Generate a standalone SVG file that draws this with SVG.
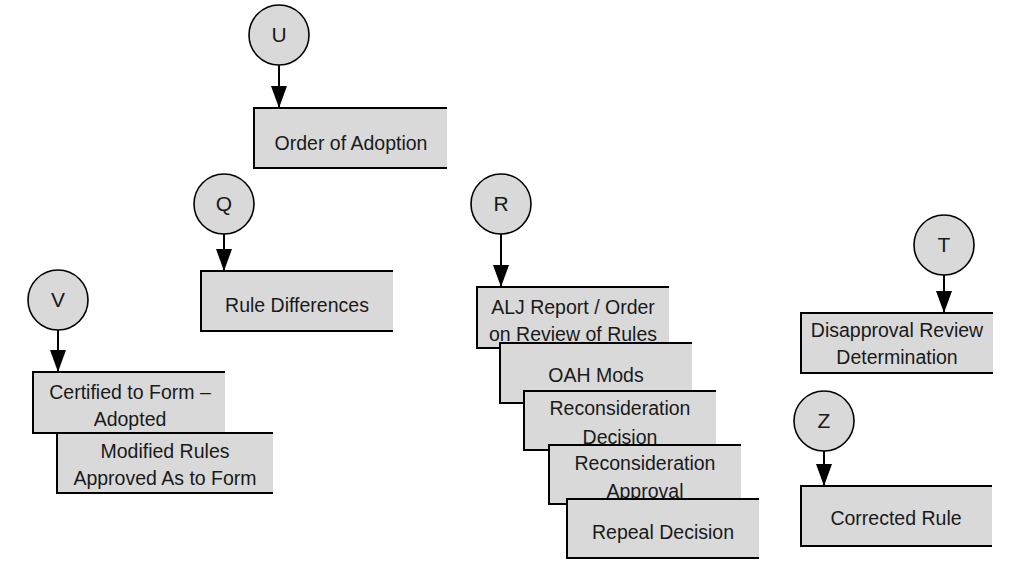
<svg xmlns="http://www.w3.org/2000/svg" width="1030" height="562" viewBox="0 0 1030 562">
<style>
.bg{fill:#d9d9d9;stroke:none}
.bd{fill:none;stroke:#000;stroke-width:2}
.c{fill:#d9d9d9;stroke:#000;stroke-width:1.6}
.t{font-family:"Liberation Sans",Arial,sans-serif;font-size:19.5px;fill:#1a1a1a;text-anchor:middle}
.ct{font-family:"Liberation Sans",Arial,sans-serif;font-size:21px;fill:#1a1a1a;text-anchor:middle}
.e{stroke:#000;stroke-width:2;fill:none;marker-end:url(#ah)}
</style>
<defs>
<marker id="ah" markerUnits="userSpaceOnUse" markerWidth="22" markerHeight="16" viewBox="0 0 22 16" refX="22" refY="8" orient="auto">
<path d="M0,0 L22,8 L0,16 z" fill="#000"/>
</marker>
</defs>
<rect width="1030" height="562" fill="#fff"/>
<g id="connectors">
<line class="e" x1="279" y1="65" x2="279" y2="108"/>
<line class="e" x1="224" y1="234" x2="224" y2="271"/>
<line class="e" x1="58" y1="330" x2="58" y2="372"/>
<line class="e" x1="501" y1="234" x2="501" y2="287"/>
<line class="e" x1="944" y1="275" x2="944" y2="313"/>
<line class="e" x1="824" y1="451" x2="824" y2="486"/>
</g>
<g id="U"><circle class="c" cx="279" cy="35" r="30"/><text class="ct" x="279" y="42">U</text></g>
<g id="Q"><circle class="c" cx="224" cy="204" r="30"/><text class="ct" x="224" y="211">Q</text></g>
<g id="V"><circle class="c" cx="58" cy="300" r="30"/><text class="ct" x="58" y="307">V</text></g>
<g id="R"><circle class="c" cx="501" cy="204" r="30"/><text class="ct" x="501" y="211">R</text></g>
<g id="T"><circle class="c" cx="944" cy="245" r="30"/><text class="ct" x="944" y="252">T</text></g>
<g id="Z"><circle class="c" cx="824" cy="421" r="30"/><text class="ct" x="824" y="428">Z</text></g>
<g id="order-of-adoption"><rect class="bg" x="254" y="108" width="193" height="60"/><path class="bd" d="M447,108 H254 V168 H447"/><text class="t" x="351" y="150">Order of Adoption</text></g>
<g id="rule-differences"><rect class="bg" x="201" y="271" width="192" height="60"/><path class="bd" d="M393,271 H201 V331 H393"/><text class="t" x="297" y="312">Rule Differences</text></g>
<g id="certified"><rect class="bg" x="33" y="372" width="192" height="61"/><path class="bd" d="M225,372 H33 V433 H225"/><text class="t" x="130" y="399">Certified to Form –</text><text class="t" x="130" y="426">Adopted</text></g>
<g id="modified"><rect class="bg" x="57" y="433" width="216" height="60"/><path class="bd" d="M273,433 H57 V493 H273"/><text class="t" x="165" y="458">Modified Rules</text><text class="t" x="165" y="485">Approved As to Form</text></g>
<g id="alj"><rect class="bg" x="477" y="287" width="192" height="61"/><path class="bd" d="M669,287 H477 V348 H669"/><text class="t" x="573" y="314">ALJ Report / Order</text><text class="t" x="573" y="341">on Review of Rules</text></g>
<g id="oah"><rect class="bg" x="500" y="343" width="192" height="60"/><path class="bd" d="M692,343 H500 V403 H692"/><text class="t" x="596" y="382">OAH Mods</text></g>
<g id="recon-decision"><rect class="bg" x="524" y="391" width="192" height="59"/><path class="bd" d="M716,391 H524 V450 H716"/><text class="t" x="620" y="415">Reconsideration</text><text class="t" x="620" y="444">Decision</text></g>
<g id="recon-approval"><rect class="bg" x="549" y="445" width="192" height="59"/><path class="bd" d="M741,445 H549 V504 H741"/><text class="t" x="645" y="470">Reconsideration</text><text class="t" x="645" y="498">Approval</text></g>
<g id="repeal"><rect class="bg" x="567" y="499" width="192" height="59"/><path class="bd" d="M759,499 H567 V558 H759"/><text class="t" x="663" y="539">Repeal Decision</text></g>
<g id="disapproval"><rect class="bg" x="801" y="313" width="192" height="60"/><path class="bd" d="M993,313 H801 V373 H993"/><text class="t" x="897" y="337">Disapproval Review</text><text class="t" x="897" y="364">Determination</text></g>
<g id="corrected"><rect class="bg" x="801" y="486" width="191" height="60"/><path class="bd" d="M992,486 H801 V546 H992"/><text class="t" x="896" y="525">Corrected Rule</text></g>
</svg>
